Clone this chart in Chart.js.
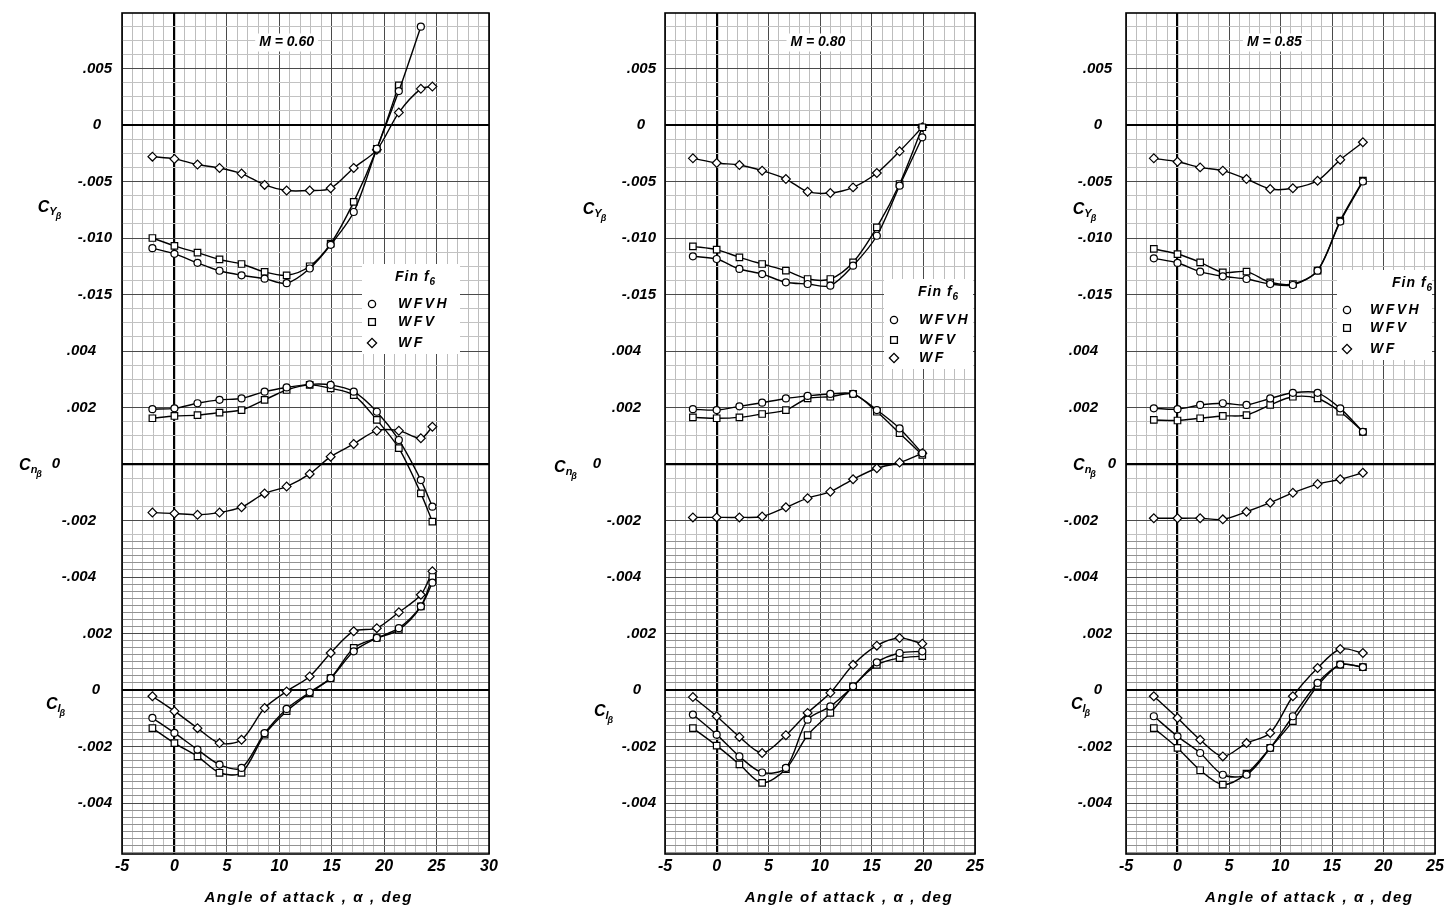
<!DOCTYPE html>
<html lang="en">
<head>
<meta charset="UTF-8">
<title>Lateral stability derivatives vs angle of attack, Fin f6</title>
<script src="https://cdn.jsdelivr.net/npm/chart.js"></script>
<style>
  html, body { margin: 0; padding: 0; background: #fff; }
  body { width: 1452px; height: 912px; position: relative; overflow: hidden; }
  canvas { position: absolute; top: 0; }
  #c060 { left: 0; }
  #c080 { left: 510px; }
  #c085 { left: 1000px; }
</style>
</head>
<body>
<canvas id="c060" width="505" height="912"></canvas>
<canvas id="c080" width="490" height="912"></canvas>
<canvas id="c085" width="452" height="912"></canvas>
<script>
// ---- data (angle of attack in deg, derivatives per deg) ----
// M = 0.60
const alpha060 = [-2.1, 0, 2.2, 4.3, 6.4, 8.6, 10.7, 12.9, 14.9, 17.1, 19.3, 21.4, 23.5, 24.6];
const cyWFVH060 = [-0.0109, -0.0114, -0.0122, -0.0129, -0.0133, -0.0136, -0.0140, -0.0127, -0.0106, -0.0077, -0.0021, 0.0030, 0.0087, null];
const cyWFV060 = [-0.0100, -0.0107, -0.0113, -0.0119, -0.0123, -0.0130, -0.0133, -0.0125, -0.0105, -0.0068, -0.0021, 0.0035, null, null];
const cyWF060 = [-0.0028, -0.0030, -0.0035, -0.0038, -0.0043, -0.0053, -0.0058, -0.0058, -0.0056, -0.0038, -0.0022, 0.0011, 0.0032, 0.0034];
const cnWFVH060 = [0.00194, 0.00197, 0.00215, 0.00227, 0.00232, 0.00256, 0.00271, 0.00282, 0.00280, 0.00256, 0.00185, 0.00085, -0.00057, -0.00151];
const cnWFV060 = [0.00162, 0.00170, 0.00173, 0.00182, 0.00191, 0.00227, 0.00262, 0.00280, 0.00268, 0.00244, 0.00156, 0.00056, -0.00104, -0.00204];
const cnWF060 = [-0.00172, -0.00175, -0.00180, -0.00172, -0.00153, -0.00104, -0.00080, -0.00035, 0.00026, 0.00071, 0.00118, 0.00118, 0.00091, 0.00132];
const clWFVH060 = [-0.00099, -0.00152, -0.00211, -0.00264, -0.00276, -0.00153, -0.00067, -0.00008, 0.00042, 0.00137, 0.00184, 0.00219, 0.00296, 0.00380];
const clWFV060 = [-0.00135, -0.00188, -0.00235, -0.00293, -0.00293, -0.00158, -0.00075, -0.00011, 0.00042, 0.00149, 0.00184, 0.00213, 0.00296, 0.00400];
const clWF060 = [-0.00022, -0.00075, -0.00135, -0.00188, -0.00176, -0.00064, -0.00005, 0.00048, 0.00131, 0.00208, 0.00219, 0.00275, 0.00337, 0.00420];

// M = 0.80
const alpha080 = [-2.3, 0, 2.2, 4.4, 6.7, 8.8, 11.0, 13.2, 15.5, 17.7, 19.9];
const cyWFVH080 = [-0.01162, -0.01186, -0.01274, -0.01319, -0.01392, -0.01407, -0.01422, -0.01245, -0.00980, -0.00537, -0.00109];
const cyWFV080 = [-0.01074, -0.01103, -0.01171, -0.01230, -0.01289, -0.01363, -0.01363, -0.01215, -0.00906, -0.00522, -0.00020];
const cyWF080 = [-0.00295, -0.00336, -0.00354, -0.00404, -0.00478, -0.00590, -0.00602, -0.00552, -0.00425, -0.00233, -0.00020];
const cnWFVH080 = [0.00194, 0.00191, 0.00204, 0.00217, 0.00232, 0.00241, 0.00248, 0.00248, 0.00191, 0.00126, 0.00038];
const cnWFV080 = [0.00165, 0.00162, 0.00165, 0.00177, 0.00191, 0.00232, 0.00238, 0.00248, 0.00185, 0.00109, 0.00032];
const cnWF080 = [-0.00189, -0.00189, -0.00189, -0.00186, -0.00153, -0.00121, -0.00098, -0.00054, -0.00015, 0.00005, 0.00038];
const clWFVH080 = [-0.00087, -0.00158, -0.00235, -0.00292, -0.00276, -0.00105, -0.00058, 0.00013, 0.00098, 0.00131, 0.00137];
const clWFV080 = [-0.00135, -0.00197, -0.00263, -0.00329, -0.00280, -0.00160, -0.00081, 0.00013, 0.00089, 0.00113, 0.00120];
const clWF080 = [-0.00025, -0.00093, -0.00166, -0.00223, -0.00160, -0.00081, -0.00010, 0.00089, 0.00157, 0.00184, 0.00164];

// M = 0.85
const alpha085 = [-2.3, 0, 2.2, 4.4, 6.7, 9.0, 11.2, 13.6, 15.8, 18.0];
const cyWFVH085 = [-0.01180, -0.01221, -0.01298, -0.01339, -0.01363, -0.01407, -0.01416, -0.01289, -0.00855, -0.00500];
const cyWFV085 = [-0.01097, -0.01142, -0.01215, -0.01304, -0.01298, -0.01392, -0.01407, -0.01289, -0.00847, -0.00493];
const cyWF085 = [-0.00295, -0.00325, -0.00375, -0.00404, -0.00478, -0.00566, -0.00560, -0.00493, -0.00307, -0.00153];
const cnWFVH085 = [0.00197, 0.00194, 0.00209, 0.00215, 0.00209, 0.00232, 0.00252, 0.00252, 0.00197, 0.00114];
const cnWFV085 = [0.00156, 0.00154, 0.00162, 0.00170, 0.00173, 0.00209, 0.00238, 0.00232, 0.00185, 0.00114];
const cnWF085 = [-0.00192, -0.00192, -0.00192, -0.00196, -0.00169, -0.00137, -0.00102, -0.00071, -0.00054, -0.00031];
const clWFVH085 = [-0.00093, -0.00164, -0.00223, -0.00300, -0.00300, -0.00205, -0.00093, 0.00025, 0.00090, 0.00081];
const clWFV085 = [-0.00135, -0.00205, -0.00284, -0.00335, -0.00296, -0.00205, -0.00110, 0.00015, 0.00090, 0.00081];
const clWF085 = [-0.00022, -0.00099, -0.00176, -0.00235, -0.00188, -0.00152, -0.00022, 0.00078, 0.00145, 0.00131];

// tick labels
const cyTicks = [0.005, 0, -0.005, -0.010, -0.015];
const cnTicks = [0.004, 0.002, 0, -0.002, -0.004];
const clTicks = [0.002, 0, -0.002, -0.004];
const configs = ['WFVH', 'WFV', 'WF'];
const symbols = ['circle', 'rect', 'rectRot'];

// ---- layout ----
const FONT = '"Liberation Sans", "DejaVu Sans", sans-serif';
const AREA_TOP = 13, AREA_BOTTOM = 854;
// pixels per unit of coefficient, and where each zero line sits
const CY_PX = 11300, CN_PX = 28250;
const CY_ZERO = 125, CN_ZERO = 464, CL_ZERO = 690;

const fmt = v => v === 0 ? '0' : (v < 0 ? '-' : '') + Math.abs(v).toFixed(3).replace(/^0/, '');

const panels = [
  { id: 'c060', mach: 'M = 0.60', machAt: 10.7, xMax: 30, padL: 122, padR: 16,
    alpha: alpha060,
    cy: [cyWFVH060, cyWFV060, cyWF060], cn: [cnWFVH060, cnWFV060, cnWF060], cl: [clWFVH060, clWFV060, clWF060],
    lab: { cyR: 10, cy0: 25, cyT: [72, 208], cnR: 26, cn0: 66, cnT: [91, 466], clR: 10, cl0: 26, clT: [66, 705] },
    leg: { sym: 250, txt: 276, fin: 273, finY: 277, rows: [304, 322, 343] } },
  { id: 'c080', mach: 'M = 0.80', machAt: 9.8, xMax: 25, padL: 155, padR: 25,
    alpha: alpha080,
    cy: [cyWFVH080, cyWFV080, cyWF080], cn: [cnWFVH080, cnWFV080, cnWF080], cl: [clWFVH080, clWFV080, clWF080],
    lab: { cyR: 9, cy0: 24, cyT: [70, 210], cnR: 24, cn0: 68, cnT: [99, 468], clR: 9, cl0: 28, clT: [61, 712] },
    leg: { sym: 229, txt: 254, fin: 253, finY: 292, rows: [320, 340, 358] } },
  { id: 'c085', mach: 'M = 0.85', machAt: 9.4, xMax: 25, padL: 126, padR: 17,
    alpha: alpha085,
    cy: [cyWFVH085, cyWFV085, cyWF085], cn: [cnWFVH085, cnWFV085, cnWF085], cl: [clWFVH085, clWFV085, clWF085],
    lab: { cyR: 14, cy0: 28, cyT: [41, 210], cnR: 28, cn0: 14, cnT: [41, 466], clR: 14, cl0: 28, clT: [45, 705] },
    leg: { sym: 221, txt: 244, fin: 266, finY: 283, rows: [310, 328, 349] } }
];

function rangeFor(zeroPx, pxPerUnit) {
  return { max: (zeroPx - AREA_TOP) / pxPerUnit, min: (zeroPx - AREA_BOTTOM) / pxPerUnit };
}

function coefLabel(ctx, x, y, sub) {
  ctx.save();
  ctx.fillStyle = '#000';
  ctx.textBaseline = 'middle';
  ctx.textAlign = 'left';
  ctx.font = `italic bold 16px ${FONT}`;
  const wC = ctx.measureText('C').width;
  ctx.font = `italic bold 11px ${FONT}`;
  const wS = ctx.measureText(sub).width;
  ctx.font = `italic bold 9px ${FONT}`;
  const wB = ctx.measureText('β').width;
  const x0 = x - (wC + wS + wB) / 2;
  ctx.font = `italic bold 16px ${FONT}`;
  ctx.fillText('C', x0, y);
  ctx.font = `italic bold 11px ${FONT}`;
  ctx.fillText(sub, x0 + wC, y + 4);
  ctx.font = `italic bold 9px ${FONT}`;
  ctx.fillText('β', x0 + wC + wS - 1, y + 9);
  ctx.restore();
}

function marker(ctx, style, x, y) {
  ctx.save();
  ctx.strokeStyle = '#000';
  ctx.fillStyle = '#fff';
  ctx.lineWidth = 1.3;
  const r = style === 'rect' ? 4.8 : style === 'rectRot' ? 4.6 : 3.6;
  if (Chart.helpers && Chart.helpers.drawPoint) {
    Chart.helpers.drawPoint(ctx, { pointStyle: style, radius: r, rotation: 0, borderWidth: 1.3 }, x, y);
  } else {
    ctx.beginPath();
    ctx.arc(x, y, r, 0, Math.PI * 2);
    ctx.fill(); ctx.stroke();
  }
  ctx.restore();
}

const annotations = {
  id: 'annotations',
  beforeDatasetsDraw(chart) {
    const { ctx, chartArea: a } = chart;
    ctx.save();
    ctx.strokeStyle = '#000';
    ctx.lineWidth = 1.6;
    ctx.strokeRect(a.left, a.top, a.right - a.left, a.bottom - a.top);
    ctx.restore();
  },
  afterDraw(chart, args, opts) {
    const p = opts.panel;
    const { ctx, chartArea: a, scales } = chart;
    const L = a.left;
    ctx.save();
    ctx.fillStyle = '#000';
    ctx.textBaseline = 'middle';
    ctx.font = `italic bold 15px ${FONT}`;

    const put = (ticks, scale, right, zeroX) => {
      ticks.forEach(v => {
        const y = scale.getPixelForValue(v);
        if (v === 0) { ctx.textAlign = 'center'; ctx.fillText('0', L - zeroX, y); }
        else { ctx.textAlign = 'right'; ctx.fillText(fmt(v), L - right, y); }
      });
    };
    put(cyTicks, scales.cy, p.lab.cyR, p.lab.cy0);
    put(cnTicks, scales.cn, p.lab.cnR, p.lab.cn0);
    put(clTicks, scales.cl, p.lab.clR, p.lab.cl0);
    coefLabel(ctx, L - p.lab.cyT[0], p.lab.cyT[1], 'Y');
    coefLabel(ctx, L - p.lab.cnT[0], p.lab.cnT[1], 'n');
    coefLabel(ctx, L - p.lab.clT[0], p.lab.clT[1], 'l');

    // Mach number label
    ctx.font = `italic bold 14px ${FONT}`;
    ctx.textAlign = 'center';
    const mx = scales.x.getPixelForValue(p.machAt);
    const my = scales.cy.getPixelForValue(0.0073);
    const mw = ctx.measureText(p.mach).width;
    ctx.fillStyle = '#fff';
    ctx.fillRect(mx - mw / 2 - 4, my - 9, mw + 8, 18);
    ctx.fillStyle = '#000';
    ctx.fillText(p.mach, mx, my);

    // legend
    const lg = p.leg;
    ctx.fillStyle = '#fff';
    ctx.fillRect(L + lg.sym - 10, lg.finY - 13, Math.min(a.right - 2, L + lg.txt + 62) - (L + lg.sym - 10), lg.rows[2] - lg.finY + 24);
    ctx.fillStyle = '#000';
    ctx.textAlign = 'left';
    ctx.letterSpacing = '1px';
    ctx.font = `italic bold 14px ${FONT}`;
    ctx.fillText('Fin f', L + lg.fin, lg.finY);
    const fw = ctx.measureText('Fin f').width;
    ctx.font = `italic bold 10px ${FONT}`;
    ctx.fillText('6', L + lg.fin + fw, lg.finY + 5);
    ctx.font = `italic bold 14px ${FONT}`;
    ctx.letterSpacing = '2.5px';
    configs.forEach((c, i) => {
      marker(ctx, symbols[i], L + lg.sym, lg.rows[i]);
      ctx.fillText(c, L + lg.txt, lg.rows[i]);
    });

    // x axis title
    ctx.letterSpacing = '1.6px';
    ctx.font = `italic bold 15px ${FONT}`;
    ctx.textAlign = 'center';
    ctx.fillText('Angle of attack , α , deg', scales.x.getPixelForValue(12.8), 898);
    ctx.restore();
  }
};

function stepTicks(scale, step, denseBelow, denseStep) {
  const t = [];
  const lo = Math.ceil(scale.min / denseStep), hi = Math.floor(scale.max / denseStep);
  for (let k = lo; k <= hi; k++) {
    const v = +(k * denseStep).toFixed(6);
    const onStep = Math.abs(v / step - Math.round(v / step)) < 1e-6;
    if (v < denseBelow || onStep) t.push({ value: v });
  }
  scale.ticks = t;
}

panels.forEach(p => {
  const datasets = [];
  ['cy', 'cn', 'cl'].forEach(axis => {
    p[axis].forEach((vals, i) => {
      datasets.push({
        label: configs[i] + ' ' + axis,
        data: p.alpha.map((a, k) => ({ x: a, y: vals[k] })),
        yAxisID: axis,
        borderColor: '#000',
        borderWidth: 1.4,
        backgroundColor: '#fff',
        pointStyle: symbols[i],
        pointRadius: symbols[i] === 'rect' ? 4.6 : symbols[i] === 'rectRot' ? 4.4 : 3.5,
        pointBorderWidth: 1.2,
        pointBackgroundColor: '#fff',
        pointBorderColor: '#000',
        tension: 0.3,
        spanGaps: true,
        fill: false
      });
    });
  });

  const cyR = rangeFor(CY_ZERO, CY_PX);
  const cnR = rangeFor(CN_ZERO, CN_PX);
  const clR = rangeFor(CL_ZERO, CN_PX);
  const zeroOnly = s => { s.ticks = [{ value: 0 }]; };
  const zeroAxis = (r) => ({
    type: 'linear', position: 'left', min: r.min, max: r.max,
    afterBuildTicks: zeroOnly,
    afterFit: s => { s.width = 0; },
    ticks: { display: false },
    border: { display: false },
    grid: { drawTicks: false, color: '#000', lineWidth: 2 }
  });

  new Chart(document.getElementById(p.id), {
    type: 'line',
    data: { datasets },
    plugins: [annotations],
    options: {
      responsive: false,
      animation: false,
      layout: { padding: { left: p.padL, right: p.padR, top: AREA_TOP, bottom: 0 } },
      plugins: {
        legend: { display: false },
        tooltip: { enabled: false },
        annotations: { panel: p }
      },
      scales: {
        x: {
          type: 'linear', min: -5, max: p.xMax,
          afterFit: s => { s.height = 912 - AREA_BOTTOM; },
          border: { display: false },
          ticks: {
            stepSize: 1, autoSkip: false, maxRotation: 0, padding: 3, color: '#000',
            font: { family: FONT, size: 16, style: 'italic', weight: 'bold' },
            callback: v => (v % 5 === 0 ? String(v) : '')
          },
          grid: {
            drawTicks: false,
            color: c => c.tick.value === 0 ? '#000' : (c.tick.value % 5 === 0 ? '#4a4a4a' : '#bdbdbd'),
            lineWidth: c => c.tick.value === 0 ? 2.2 : 1
          }
        },
        cn: {
          type: 'linear', position: 'left', min: cnR.min, max: cnR.max,
          afterBuildTicks: s => stepTicks(s, 0.0005, -0.0025, 0.00025),
          afterFit: s => { s.width = 0; },
          ticks: { display: false },
          border: { display: false },
          grid: {
            drawTicks: false,
            color: c => {
              const v = c.tick.value;
              if (v === 0) return '#000';
              if (Math.abs(v / 0.002 - Math.round(v / 0.002)) < 1e-6) return '#4a4a4a';
              return v < -0.0025 ? '#929292' : '#c2c2c2';
            },
            lineWidth: c => c.tick.value === 0 ? 2.2 : 1
          }
        },
        cy: zeroAxis(cyR),
        cl: zeroAxis(clR)
      }
    }
  });
});
</script>
</body>
</html>
